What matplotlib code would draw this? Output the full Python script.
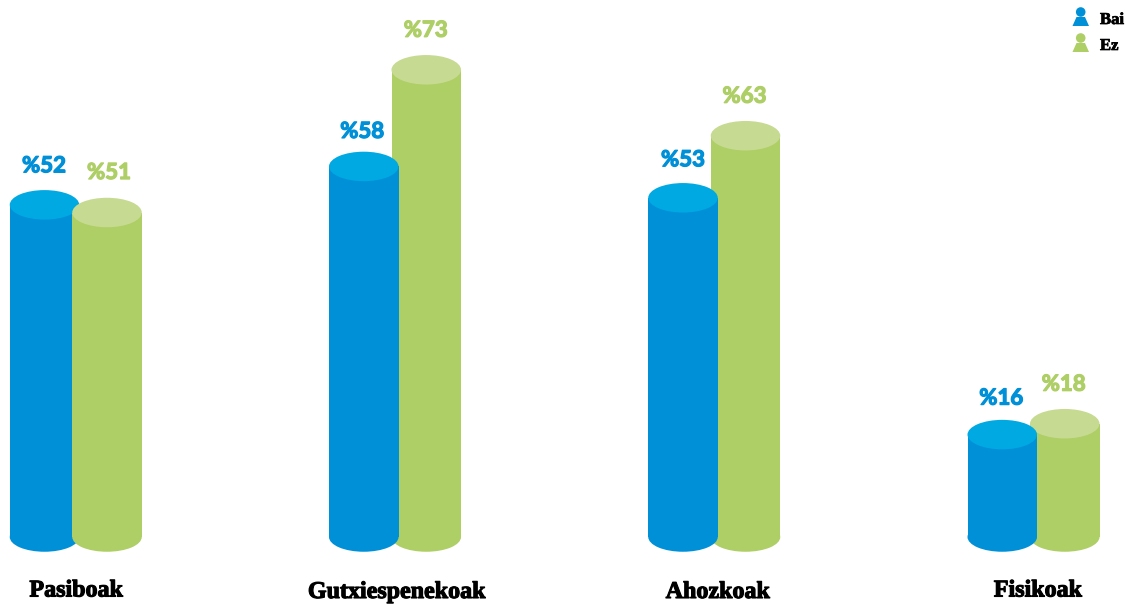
import matplotlib
matplotlib.use("Agg")
import matplotlib.pyplot as plt
import matplotlib.patheffects as pe
from matplotlib.patches import Rectangle, Ellipse, Polygon, Circle

# ── Data ──────────────────────────────────────────────
categories = ["Pasiboak", "Gutxiespenekoak", "Ahozkoak", "Fisikoak"]
bai_values = [52, 58, 53, 16]
ez_values = [51, 73, 63, 18]
# cylinder heights as actually drawn, a little off the printed labels
bai_heights = [51.9, 57.9, 53.0, 16.0]
ez_heights = [50.7, 73.0, 62.7, 17.7]
series_names = ["Bai", "Ez"]

# ── Style ─────────────────────────────────────────────
BLUE = "#0090D8"
BLUE_TOP = "#00A9E2"
GREEN = "#AECE66"
GREEN_TOP = "#C6DA91"

W, H = 1130, 607
PX_PER_X = 319.25      # one category step
PX_PER_Y = 6.4         # one percent
X0_PX = 75.75          # centre of first group
Y0_PX = 537            # baseline from the top

fig = plt.figure(figsize=(W / 100, H / 100), dpi=100, facecolor="white")
ax = fig.add_axes([0, 0, 1, 1])
ax.set_xlim(-X0_PX / PX_PER_X, (W - X0_PX) / PX_PER_X)
ax.set_ylim(-(H - Y0_PX) / PX_PER_Y, Y0_PX / PX_PER_Y)
ax.axis("off")

bar_w = 69.5 / PX_PER_X
offset = 31.25 / PX_PER_X
cap_h = 29.5 / PX_PER_Y

# only the first group has green drawn over blue
blue_z = [2, 4, 4, 4]

# label shifts from the bar top, in pixels (dx, dy)
bai_shift = [(-0.5, 39), (-1.5, 35), (0, 38), (-1, 36.5)]
ez_shift = [(2, 40), (-0.5, 39.5), (-1, 39.5), (-1, 39.5)]


def cylinder(x, value, side, top, z):
    ax.add_patch(Ellipse((x, 0), bar_w, cap_h, color=side, lw=0, zorder=z))
    ax.add_patch(Rectangle((x - bar_w / 2, 0), bar_w, value, color=side, lw=0, zorder=z))
    ax.add_patch(Ellipse((x, value), bar_w, cap_h, color=top, lw=0, zorder=z + 0.5))


def value_label(x, height, value, col, shift):
    ax.annotate(f"%{value}", xy=(x, height),
                xytext=(shift[0] * 0.72, shift[1] * 0.72), textcoords="offset points",
                ha="center", va="center", fontsize=16, fontweight="bold",
                family="Lato", color=col, zorder=6,
                path_effects=[pe.withStroke(linewidth=0.9, foreground=col)])


for i in range(len(categories)):
    cylinder(i - offset, bai_heights[i], BLUE, BLUE_TOP, blue_z[i])
    cylinder(i + offset, ez_heights[i], GREEN, GREEN_TOP, 3)
    value_label(i - offset, bai_heights[i], bai_values[i], BLUE, bai_shift[i])
    value_label(i + offset, ez_heights[i], ez_values[i], GREEN, ez_shift[i])

# ── Category labels ───────────────────────────────────
label_nudge = [0.001, 0.006, 0.011, 0.014]
label_y_px = [591, 592.5, 592.5, 591]
for i, name in enumerate(categories):
    ax.text(i + label_nudge[i], -(label_y_px[i] - Y0_PX) / PX_PER_Y, name,
            ha="center", va="center", fontsize=17.3, fontweight="bold",
            family="Liberation Serif", color="black",
            path_effects=[pe.withStroke(linewidth=0.8, foreground="black")])


# ── Legend, person icons in figure pixels ─────────────
def px(x, y):
    return (x / W, 1 - y / H)


for name, col, y in [(series_names[0], BLUE, 18), (series_names[1], GREEN, 44)]:
    fig.add_artist(Polygon([px(1072.5, y + 8), px(1089, y + 8), px(1085, y - 1), px(1076.5, y - 1)],
                           closed=True, color=col, lw=0, transform=fig.transFigure))
    fig.add_artist(Circle((1080.7, H - (y - 6)), 4.8, color=col, lw=0, transform=None))
    fig.text(1100 / W, 1 - (y + 2) / H, name, ha="left", va="center", fontsize=12,
             fontweight="bold", family="Liberation Serif", color="black",
             path_effects=[pe.withStroke(linewidth=0.5, foreground="black")])

fig.savefig("out.png", dpi=100)
